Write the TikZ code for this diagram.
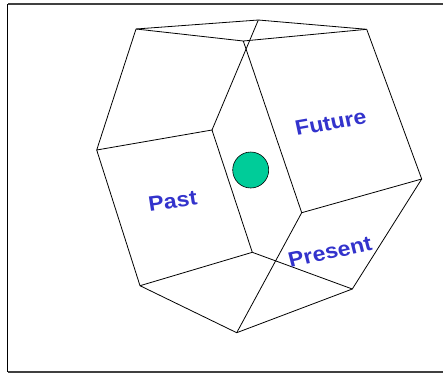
\documentclass[tikz,border=0pt]{standalone}
\usepackage{fontspec}
\setmainfont{Liberation Sans}
\begin{document}
\begin{tikzpicture}[x=1pt,y=-1pt,
  edge/.style={draw=black,line width=0.8pt,line join=round},
  lbl/.style={text=lblue,font=\bfseries\fontsize{21}{21}\selectfont,inner sep=0pt,xscale=1.1},
  frame/.style={line width=1.6pt}]
\definecolor{lblue}{RGB}{51,51,204}
\definecolor{dotgreen}{RGB}{0,204,153}
\useasboundingbox (0,0) rectangle (443,373);
% frame (top, left, bottom visible)
\coordinate (f1) at (450,4);
\coordinate (f2) at (7.5,4);
\coordinate (f3) at (7.5,372);
\coordinate (f4) at (450,372);
\draw[frame,draw=black!75] (f1) -- (f2);
\draw[frame,draw=black] (f2) -- (f3);
\draw[frame,draw=black!75] (f3) -- (f4);
% vertices
\coordinate (A) at (136,29);
\coordinate (B) at (258.3,20);
\coordinate (C) at (366.7,29.3);
\coordinate (D) at (243.3,41);
\coordinate (E) at (96.7,150);
\coordinate (F) at (212,130);
\coordinate (G) at (421.7,179);
\coordinate (H) at (301.7,212.7);
\coordinate (I) at (252.3,252.3);
\coordinate (J) at (140,285.7);
\coordinate (K) at (352.3,289);
\coordinate (L) at (236.7,332.7);
% edges
\draw[edge] (A) -- (B) -- (C);
\draw[edge] (A) -- (D) -- (C);
\draw[edge] (A) -- (E) -- (F) -- (B);
\draw[edge] (D) -- (H) -- (G) -- (C);
\draw[edge] (E) -- (J) -- (I) -- (F);
\draw[edge] (I) -- (K) -- (G);
\draw[edge] (J) -- (L) -- (K);
\draw[edge] (H) -- (L);
% dot
\node[circle,draw=black,line width=0.6pt,fill=dotgreen,minimum size=36pt,inner sep=0pt] (dot) at (250.7,170) {};
% labels
\node[lbl,rotate=8] (past) at (172.7,201) {Past};
\node[lbl,rotate=11] (future) at (330.7,122.7) {Future};
\node[lbl,rotate=13] (present) at (330,251.7) {Present};
\end{tikzpicture}
\end{document}
